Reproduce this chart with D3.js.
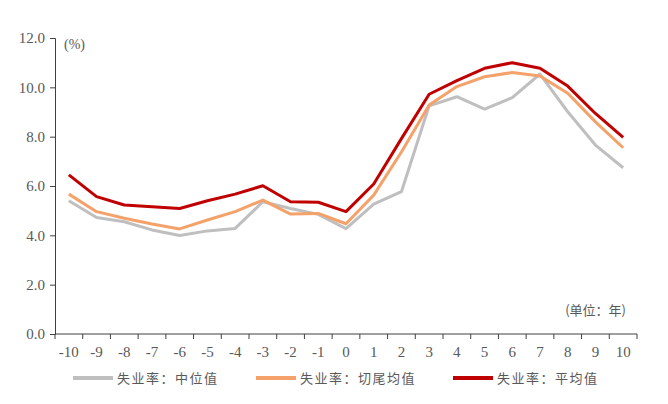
<!DOCTYPE html>
<html>
<head>
<meta charset="utf-8">
<script src="https://cdn.jsdelivr.net/npm/d3@7"></script>
<style>
  body { margin: 0; background: #fff; }
  text { font-family: "Liberation Serif", "Times New Roman", serif; fill: #595959; }
  .cjk { font-family: "Noto Sans CJK SC", serif; }
</style>
</head>
<body>
<div id="chart"></div>
<script>
// years relative to the event
var years = [-10, -9, -8, -7, -6, -5, -4, -3, -2, -1, 0, 1, 2, 3, 4, 5, 6, 7, 8, 9, 10];
var yTicks = [0, 2, 4, 6, 8, 10, 12];

var median = [5.4, 4.72, 4.55, 4.22, 3.99, 4.18, 4.28, 5.36, 5.09, 4.85, 4.27, 5.27, 5.77, 9.25, 9.62, 9.12, 9.58, 10.54, 9.01, 7.66, 6.74];
var trimmed = [5.67, 4.96, 4.69, 4.46, 4.26, 4.62, 4.96, 5.43, 4.86, 4.89, 4.47, 5.63, 7.38, 9.28, 10.03, 10.43, 10.6, 10.46, 9.76, 8.6, 7.55];
var mean = [6.45, 5.57, 5.23, 5.16, 5.09, 5.4, 5.67, 6.01, 5.36, 5.34, 4.96, 6.08, 7.92, 9.72, 10.27, 10.77, 11.0, 10.77, 10.05, 8.94, 7.97];

var seriesNames = ["失业率：中位值", "失业率：切尾均值", "失业率：平均值"];
var seriesColors = ["#bfbfbf", "#f4a26a", "#c00000"];

var W = 668, H = 404;
var margin = { top: 38, right: 31, bottom: 70, left: 55 },
    width = W - margin.left - margin.right,
    height = H - margin.top - margin.bottom;

var svg = d3.select("#chart").append("svg")
    .attr("width", W)
    .attr("height", H);

var g = svg.append("g")
    .attr("transform", "translate(" + margin.left + "," + margin.top + ")");

var x = d3.scaleBand().domain(years).range([0, width]);
var y = d3.scaleLinear().domain([0, 12]).range([height, 0]);

// y axis
var yAxis = g.append("g")
    .call(d3.axisLeft(y).tickValues(yTicks).tickFormat(d3.format(".1f")).tickSize(5).tickPadding(5))
yAxis.select(".domain").attr("stroke", "#404040");
yAxis.selectAll(".tick line").attr("stroke", "#404040");
yAxis.selectAll("text").attr("font-size", 15).style("font-family", "Liberation Serif").attr("fill", "#595959");

// x axis: labels centred, ticks at category boundaries
var xAxis = g.append("g")
    .attr("transform", "translate(0," + height + ")")
    .call(d3.axisBottom(x).tickSize(0).tickPadding(12))
xAxis.select(".domain").remove();
xAxis.selectAll("text").attr("font-size", 15).style("font-family", "Liberation Serif").attr("fill", "#595959");

var bounds = years.map(function(d) { return x(d) }).concat([width]);
g.append("line")
    .attr("x1", 0).attr("x2", width)
    .attr("y1", height).attr("y2", height)
    .attr("stroke", "#404040");
g.selectAll(".xt")
    .data(bounds)
    .enter()
    .append("line")
    .attr("class", "xt")
    .attr("x1", function(d) { return d }).attr("x2", function(d) { return d })
    .attr("y1", height).attr("y2", height + 5)
    .attr("stroke", "#404040");

// lines
var line = d3.line()
    .x(function(d, i) { return x(years[i]) + x.bandwidth() / 2 })
    .y(function(d) { return y(d) });

[median, trimmed, mean].forEach(function(s, i) {
    g.append("path")
        .datum(s)
        .attr("fill", "none")
        .attr("stroke", seriesColors[i])
        .attr("stroke-width", 3)
        .attr("stroke-linejoin", "round")
        .attr("d", line);
});

// unit labels
g.append("text")
    .attr("x", 9).attr("y", 11)
    .attr("font-size", 14)
    .style("font-family", "Liberation Serif")
    .text("(%)");
g.append("text")
    .attr("class", "cjk")
    .attr("x", width - 11).attr("y", height - 19)
    .attr("text-anchor", "end")
    .attr("font-size", 13)
    .text("(单位：年)");

// legend
var legendX = [73, 256, 453];
var legend = svg.append("g");
seriesNames.forEach(function(name, i) {
    legend.append("line")
        .attr("x1", legendX[i]).attr("x2", legendX[i] + 40)
        .attr("y1", 378).attr("y2", 378)
        .attr("stroke", seriesColors[i])
        .attr("stroke-width", 4);
    legend.append("text")
        .attr("class", "cjk")
        .attr("x", legendX[i] + 44).attr("y", 383)
        .attr("font-size", 13)
        .attr("letter-spacing", 1.5)
        .text(name);
});
</script>
</body>
</html>
